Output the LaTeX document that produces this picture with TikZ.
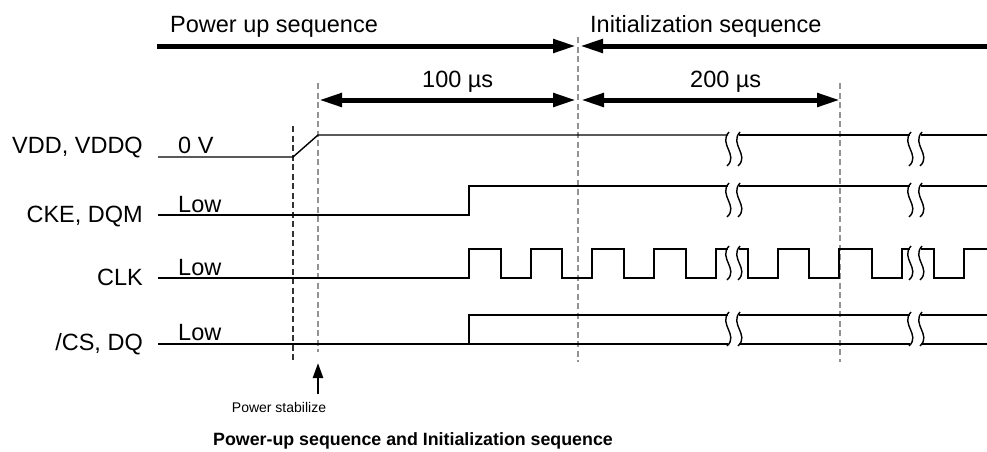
\documentclass[tikz,border=0pt]{standalone}
\usepackage{fontspec}
\setmainfont{Liberation Sans}
\usetikzlibrary{arrows.meta}
\tikzset{
  sig/.style={line width=1.4pt, black, line join=miter},
  vdash/.style={line width=1.1pt, gray!85, dash pattern=on 6pt off 3.5pt},
  vdashk/.style={line width=1.1pt, black!80, dash pattern=on 6pt off 3.5pt},
  thick arrow/.style={line width=5pt, {Triangle[length=23pt,width=13pt]}-{Triangle[length=23pt,width=13pt]}},
  thick rarrow/.style={line width=5pt, -{Triangle[length=23pt,width=13pt]}},
  thick larrow/.style={line width=5pt, {Triangle[length=23pt,width=13pt]}-},
  lbl/.style={inner sep=0pt, font=\fontsize{23.5}{28}\selectfont},
  squig/.pic={\draw[sig] (1,-3) .. controls (-10,9) and (11,20) .. (-1,31);}
}
\begin{document}
\begin{tikzpicture}[x=1pt,y=-1pt]
\useasboundingbox (0,0) rectangle (987,451);

% headings
\node[lbl, anchor=base west] (pus) at (170,32) {Power up sequence};
\node[lbl, anchor=base west] (ins) at (590,32) {Initialization sequence};
\node[lbl, anchor=base west] (t100) at (422,87) {100 µs};
\node[lbl, anchor=base west] (t200) at (690,87) {200 µs};

% dashed guides
\coordinate (d1t) at (293,126); \coordinate (d1b) at (293,362);
\coordinate (d2t) at (318,83);  \coordinate (d2b) at (318,352);
\coordinate (d3t) at (578,37);  \coordinate (d3b) at (578,362);
\coordinate (d4t) at (840,83);  \coordinate (d4b) at (840,362);
\draw[vdashk] (d1t) -- (d1b);
\draw[vdash] (d2t) -- (d2b);
\draw[vdash] (d3t) -- (d3b);
\draw[vdash] (d4t) -- (d4b);

% thick arrows
\coordinate (a1) at (157,46); \coordinate (a2) at (576,46);
\coordinate (a3) at (580,46); \coordinate (a4) at (987,46);
\draw[thick rarrow] (a1) -- (a2);
\draw[thick larrow] (a3) -- (a4);
\coordinate (b1) at (319,100); \coordinate (b2) at (576,100);
\coordinate (b3) at (581,100); \coordinate (b4) at (840,100);
\draw[thick arrow] (b1) -- (b2);
\draw[thick arrow] (b3) -- (b4);

% signal names
\node[lbl, anchor=base east] (nvdd) at (143,153) {VDD, VDDQ};
\node[lbl, anchor=base east] (ncke) at (143,222) {CKE, DQM};
\node[lbl, anchor=base east] (nclk) at (143,285) {CLK};
\node[lbl, anchor=base east] (ncs) at (143,350) {/CS, DQ};
\node[lbl, anchor=base west] (l0v) at (178,153) {0 V};
\node[lbl, anchor=base west] (lcke) at (178,212) {Low};
\node[lbl, anchor=base west] (lclk) at (178,275) {Low};
\node[lbl, anchor=base west] (lcs) at (178,340) {Low};

% VDD
\draw[sig] (158,157) -- (293,157) -- (318,135) -- (728,135);
\draw[sig] (739,135) -- (910,135);
\draw[sig] (921,135) -- (987,135);
\foreach \x in {728,739,910,921} \pic at (\x,135) {squig};

% CKE
\draw[sig] (158,215) -- (469,215) -- (469,186) -- (728,186);
\draw[sig] (739,186) -- (910,186);
\draw[sig] (921,186) -- (987,186);
\foreach \x in {728,739,910,921} \pic at (\x,186) {squig};

% CLK
\draw[sig] (158,278) -- (469,278) -- (469,249) -- (501,249) -- (501,278) -- (531,278) -- (531,249) -- (562,249) -- (562,278) -- (592,278) -- (592,249) -- (624,249) -- (624,278) -- (654,278) -- (654,249) -- (686,249) -- (686,278) -- (716,278) -- (716,249) -- (728,249);
\draw[sig] (739,249) -- (748,249) -- (748,278) -- (778,278) -- (778,249) -- (809,249) -- (809,278) -- (839,278) -- (839,249) -- (872,249) -- (872,278) -- (902,278) -- (902,249) -- (910,249);
\draw[sig] (921,249) -- (934,249) -- (934,278) -- (964,278) -- (964,249) -- (987,249);
\foreach \x in {728,739,910,921} \pic at (\x,249) {squig};

% /CS, DQ
\draw[sig] (158,344) -- (728,344);
\draw[sig] (739,344) -- (910,344);
\draw[sig] (921,344) -- (987,344);
\draw[sig] (469,344) -- (469,315) -- (728,315);
\draw[sig] (739,315) -- (910,315);
\draw[sig] (921,315) -- (987,315);
\foreach \x in {728,739,910,921} \pic at (\x,315) {squig};

% power stabilize
\node[inner sep=0pt, anchor=base, font=\fontsize{14}{16}\selectfont] (pst) at (279,412) {Power stabilize};
\coordinate (ptip) at (318,363);
\draw[line width=2.5pt, -{Triangle[length=15pt,width=10pt]}] (318,394) -- (ptip);

% title
\node[inner sep=0pt, anchor=base, font=\bfseries\fontsize{17.8}{20}\selectfont] (title) at (413,445) {Power-up sequence and Initialization sequence};
\end{tikzpicture}
\end{document}
